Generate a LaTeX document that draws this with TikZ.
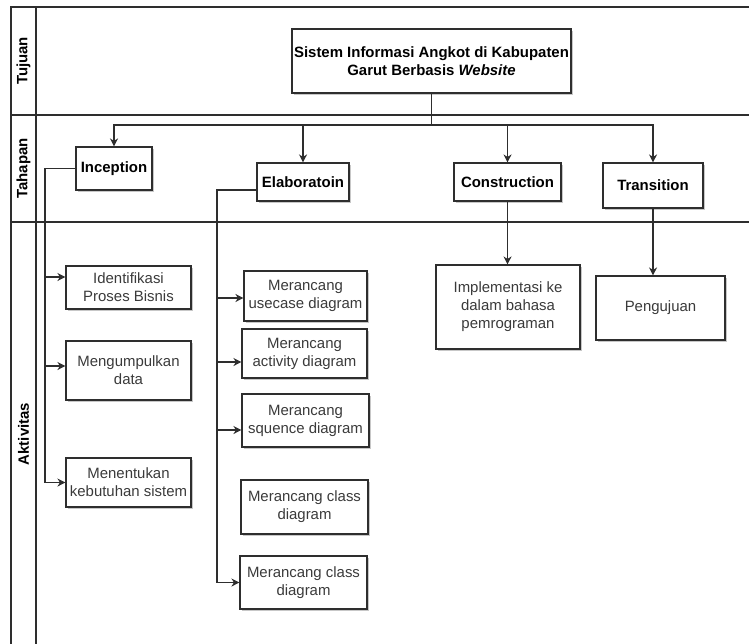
\documentclass[tikz,border=0pt]{standalone}
\usepackage{fontspec}
\setmainfont{Liberation Sans}
\usetikzlibrary{arrows.meta,shadows}
\definecolor{ln}{HTML}{2E2E2E}
\definecolor{tx}{HTML}{3A3A3A}
\begin{document}
\begin{tikzpicture}[x=1bp,y=-1bp,
  lane/.style={draw=ln, line width=1.2bp},
  lanelabel/.style={rotate=90, font=\fontsize{15}{18}\selectfont\bfseries, text=black},
  box/.style={draw=ln, line width=1.1bp, fill=white, align=center, inner sep=0pt,
    font=\fontsize{15}{18}\selectfont, text=tx,
    drop shadow={shadow xshift=2bp, shadow yshift=-2bp, opacity=0.22, fill=black}},
  phase/.style={box, font=\fontsize{15}{18}\selectfont\bfseries, text=black},
  conn/.style={draw=ln, line width=1.1bp},
  arr/.style={conn, -{Stealth[length=8bp,width=8bp,inset=2.5bp]}}
]
\useasboundingbox (0,0) rectangle (749,644);
\fill[white] (0,0) rectangle (749,644);

% swimlanes
\draw[lane] (11,644) -- (11,7) -- (749,7);
\draw[lane] (36,7) -- (36,644);
\draw[lane] (11,115) -- (749,115);
\draw[lane] (11,222) -- (749,222);
\node[lanelabel] (lt) at (23.5,61) {Tujuan};
\node[lanelabel] (lh) at (23.5,168.5) {Tahapan};
\node[lanelabel] (la) at (23.5,434) {Aktivitas};

% title
\node[phase, minimum width=279bp, minimum height=64bp] (title) at (431.5,61)
  {Sistem Informasi Angkot di Kabupaten\\Garut Berbasis \textit{Website}};

% phases
\node[phase, minimum width=76bp,  minimum height=43bp] (inc)   at (114,168.5) {Inception};
\node[phase, minimum width=92bp,  minimum height=38bp] (elab)  at (303,182) {Elaboratoin};
\node[phase, minimum width=107bp, minimum height=38bp] (cons)  at (507.5,182) {Construction};
\node[phase, minimum width=100bp, minimum height=45bp] (trans) at (653,185.5) {Transition};

% activities
\node[box, minimum width=125bp, minimum height=43bp] (ident) at (128.5,287.5) {Identifikasi\\Proses Bisnis};
\node[box, minimum width=125bp, minimum height=59bp] (meng)  at (128.5,370.5) {Mengumpulkan\\data};
\node[box, minimum width=125bp, minimum height=49bp] (menen) at (128.5,482.5) {Menentukan\\kebutuhan sistem};

\node[box, minimum width=123bp, minimum height=50bp] (usec) at (305.5,296) {Merancang\\usecase diagram};
\node[box, minimum width=125bp, minimum height=49bp] (act)  at (304.5,353.5) {Merancang\\activity diagram};
\node[box, minimum width=127bp, minimum height=53bp] (sque) at (305.5,420.5) {Merancang\\squence diagram};
\node[box, minimum width=127bp, minimum height=54bp] (cls1) at (304.5,507) {Merancang class\\diagram};
\node[box, minimum width=127bp, minimum height=53bp] (cls2) at (303.5,582.5) {Merancang class\\diagram};

\node[box, minimum width=144bp, minimum height=84bp] (impl) at (508,307) {Implementasi ke\\dalam bahasa\\pemrograman};
\node[box, minimum width=129bp, minimum height=64bp] (peng) at (660.5,308) {Pengujuan};

% title -> phases
\coordinate (hub) at (431.5,125);
\draw[conn] (title.south) -- (hub);
\draw[arr] (hub) -| (inc.north);
\draw[arr] (hub) -| (elab.north);
\draw[arr] (hub) -| (cons.north);
\draw[arr] (hub) -| (trans.north);

% inception branch
\coordinate (ib) at (45,482.5);
\draw[arr] (inc.west) -| (ib) -- (menen.west);
\coordinate (i1) at (45,277);
\coordinate (i2) at (45,366);
\draw[arr] (i1) -- (ident.west |- i1);
\draw[arr] (i2) -- (meng.west |- i2);

% elaboration branch
\coordinate (eb) at (217,582.5);
\draw[arr] ([yshift=-8bp]elab.west) -| (eb) -- (cls2.west);
\coordinate (e1) at (217,298);
\coordinate (e2) at (217,362);
\coordinate (e3) at (217,430);
\draw[arr] (e1) -- (usec.west |- e1);
\draw[arr] (e2) -- (act.west |- e2);
\draw[arr] (e3) -- (sque.west |- e3);

% construction / transition
\draw[arr] (cons.south) -- (cons.south |- impl.north);
\draw[arr] (trans.south) -- (trans.south |- peng.north);
\end{tikzpicture}
\end{document}
